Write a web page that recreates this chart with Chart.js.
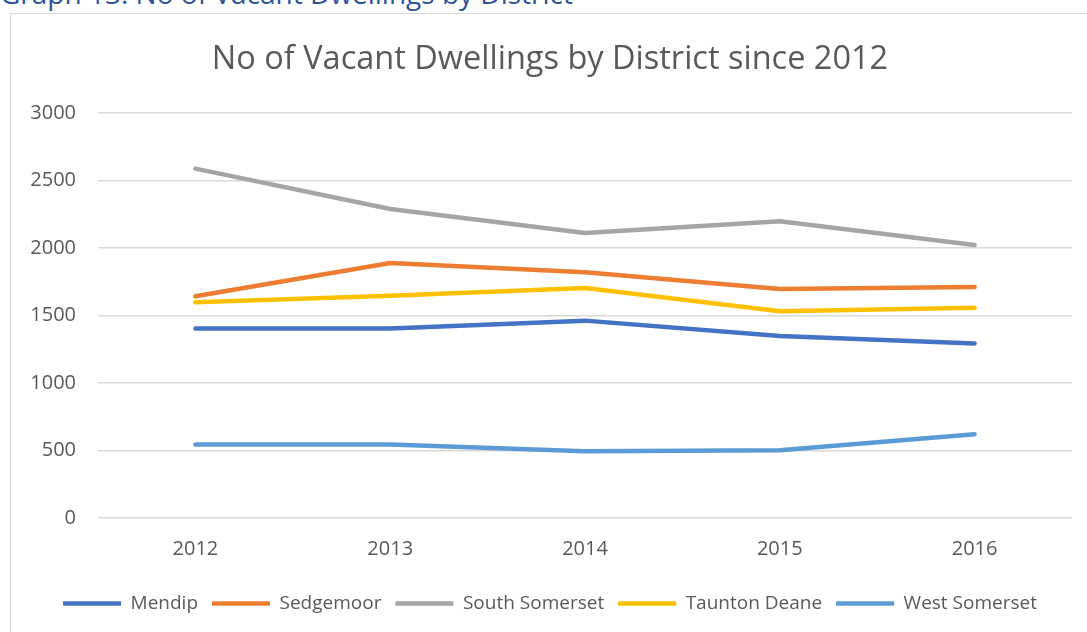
<!DOCTYPE html>
<html>
<head>
<meta charset="utf-8">
<script src="https://cdn.jsdelivr.net/npm/chart.js@4.4.1/dist/chart.umd.min.js"></script>
<style>
  html, body { margin: 0; padding: 0; background: #fff; overflow: hidden; }
  body { width: 1087px; height: 632px; position: relative; font-family: "Open Sans", sans-serif; }
  #caption {
    position: absolute; left: 0; top: -23px;
    font-size: 28px; line-height: 32px; color: #2F5496; white-space: nowrap;
  }
  #box {
    position: absolute; left: 10px; top: 13px;
    width: 1090px; height: 640px;
    border: 1.5px solid #d9d9d9; box-sizing: border-box;
  }
  #box canvas { display: block; }
</style>
</head>
<body>
<div id="caption">Graph 13: No of Vacant Dwellings by District</div>
<div id="box"><canvas id="chart" width="1087" height="637"></canvas></div>
<script>
// datos
const years = ['2012', '2013', '2014', '2015', '2016'];
const mendip = [1403, 1403, 1462, 1348, 1292];
const sedgemoor = [1642, 1889, 1820, 1696, 1711];
const southSomerset = [2588, 2289, 2111, 2198, 2022];
const tauntonDeane = [1598, 1647, 1704, 1531, 1558];
const westSomerset = [544, 544, 494, 501, 620];
const yTicks = [0, 500, 1000, 1500, 2000, 2500, 3000];

const textColor = '#595959';
const gridColor = '#d9d9d9';

function serie(label, data, color) {
  return {
    label: label,
    data: data,
    borderColor: color,
    backgroundColor: color,
    borderWidth: 4.5,
    borderCapStyle: 'round',
    borderJoinStyle: 'round',
    pointRadius: 0,
    pointHoverRadius: 0,
    tension: 0,
    fill: false
  };
}

const datasets = [
  serie('Mendip', mendip, '#4472C4'),
  serie('Sedgemoor', sedgemoor, '#ED7D31'),
  serie('South Somerset', southSomerset, '#A5A5A5'),
  serie('Taunton Deane', tauntonDeane, '#FFC000'),
  serie('West Somerset', westSomerset, '#5B9BD5')
];

new Chart(document.getElementById('chart'), {
  type: 'line',
  data: { labels: years, datasets: datasets },
  options: {
    responsive: false,
    animation: false,
    layout: { padding: { left: 17, right: 26, top: 18, bottom: 28 } },
    scales: {
      x: {
        offset: true,
        grid: { display: false, drawTicks: false },
        border: { display: false },
        ticks: { color: textColor, font: { family: 'Open Sans', size: 20 }, padding: 19 }
      },
      y: {
        min: 0,
        max: 3000,
        afterBuildTicks: axis => { axis.ticks = yTicks.map(v => ({ value: v })); },
        afterFit: axis => { axis.width = 70; },
        grid: { color: gridColor, lineWidth: 1.5, drawTicks: false },
        border: { display: false },
        ticks: {
          color: textColor,
          font: { family: 'Open Sans', size: 20 },
          padding: 22,
          callback: v => String(v)
        }
      }
    },
    plugins: {
      title: {
        display: true,
        text: 'No of Vacant Dwellings by District since 2012',
        color: textColor,
        font: { family: 'Open Sans', size: 32.5, weight: 'normal' },
        padding: { top: 8, bottom: 34 }
      },
      legend: {
        position: 'bottom',
        labels: {
          color: textColor,
          font: { family: 'Open Sans', size: 19 },
          usePointStyle: true,
          pointStyle: 'line',
          boxWidth: 50,
          boxHeight: 10,
          pointStyleWidth: 58,
          padding: 14
        }
      },
      tooltip: { enabled: false }
    }
  }
});
</script>
</body>
</html>
